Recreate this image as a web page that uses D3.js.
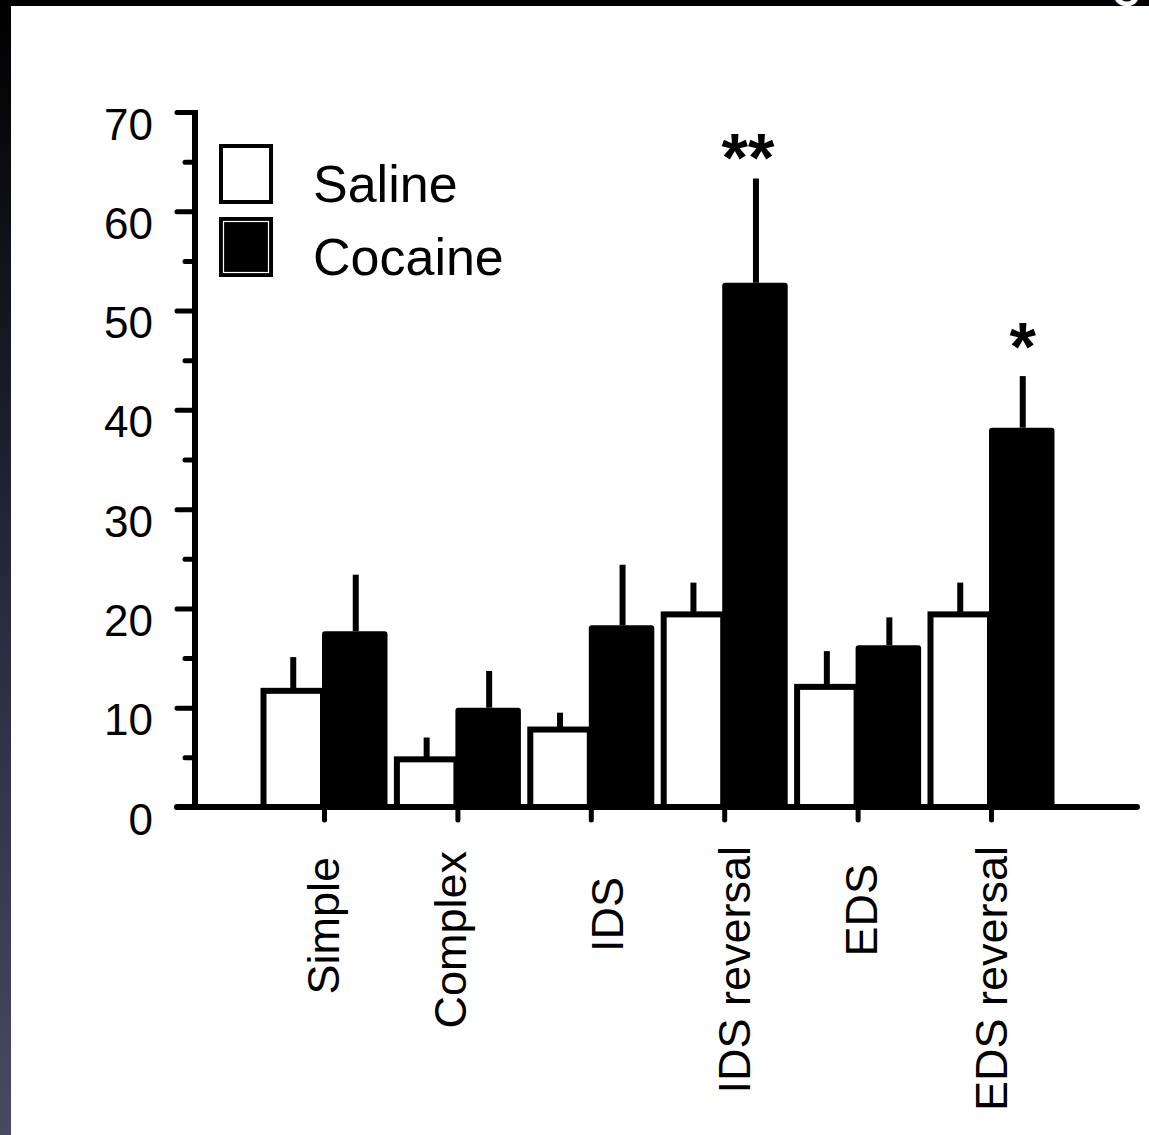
<!DOCTYPE html>
<html>
<head>
<meta charset="utf-8">
<script src="https://cdn.jsdelivr.net/npm/d3@7"></script>
<style>
  html, body { margin: 0; padding: 0; background: #fff; }
  svg { display: block; }
  text { font-family: "Liberation Sans", Arial, Helvetica, sans-serif; fill: #000; }
</style>
</head>
<body>
<svg id="chart" width="1149" height="1135"></svg>
<script>
// Task phases and treatment groups
const categories = ["Simple", "Complex", "IDS", "IDS reversal", "EDS", "EDS reversal"];
const series = ["Saline", "Cocaine"];

// Mean values and SEM for each phase
const salineMeans   = [11.7, 4.8, 7.8, 19.4, 12.1, 19.4];
const salineSEM     = [3.4, 2.2, 1.7, 3.2, 3.6, 3.2];
const cocaineMeans  = [17.7, 10.0, 18.3, 52.8, 16.3, 38.2];
const cocaineSEM    = [5.7, 3.7, 6.1, 10.5, 2.8, 5.2];

// Significance markers above the cocaine bars
const significance = ["", "", "", "**", "", "*"];

// Y axis ticks
const majorTicks = [0, 10, 20, 30, 40, 50, 60, 70];
const minorTicks = [5, 15, 25, 35, 45, 55, 65];

// Hand-placed nudges for the rotated category labels: [baseline dx, top y]
const labelPlacement = [[15, 857], [9, 851], [32, 877], [26, 846], [19, 864], [16, 846]];

const svg = d3.select("#chart");

// Page frame: black strip along the top, shaded strip down the left side
const defs = svg.append("defs");
const grad = defs.append("linearGradient").attr("id", "sideShade")
  .attr("x1", 0).attr("y1", 0).attr("x2", 0).attr("y2", 1);
grad.append("stop").attr("offset", "0%").attr("stop-color", "#000000");
grad.append("stop").attr("offset", "55%").attr("stop-color", "#2a2c40");
grad.append("stop").attr("offset", "100%").attr("stop-color", "#474a61");
defs.append("clipPath").attr("id", "topStripClip")
  .append("rect").attr("x", 0).attr("y", 0).attr("width", 1149).attr("height", 6);

svg.append("rect").attr("x", 0).attr("y", 0).attr("width", 1149).attr("height", 6).attr("fill", "#000");
svg.append("rect").attr("x", 0).attr("y", 0).attr("width", 11).attr("height", 1135).attr("fill", "url(#sideShade)");
// Panel letter, mostly above the page edge
svg.append("text").attr("x", 1112).attr("y", 6)
  .attr("clip-path", "url(#topStripClip)")
  .style("fill", "#fff").style("font-size", "38px").style("font-weight", "bold")
  .text("C");

// Scales
const yScale = d3.scaleLinear().domain([0, 70]).range([807, 112]);
const xCenter = d3.scalePoint().domain(categories).range([324, 991]);
const groupHalf = 63.5;
const xSub = d3.scaleBand().domain(series).range([-groupHalf, groupHalf]).padding(0);

const rows = categories.map((c, i) => ({
  cat: c,
  bars: [
    { s: "Saline",  v: salineMeans[i],  e: salineSEM[i] },
    { s: "Cocaine", v: cocaineMeans[i], e: cocaineSEM[i] }
  ],
  sig: significance[i]
}));

// Y axis: major ticks with labels, minor ticks without
const yMajor = d3.axisLeft(yScale).tickValues(majorTicks).tickSize(18).tickSizeOuter(0);
const gY = svg.append("g").attr("transform", "translate(195,0)").call(yMajor);
gY.select(".domain").attr("stroke", "#000").attr("stroke-width", 6)
  .attr("d", `M0,${yScale(70) - 2}V${yScale(0)}`);
gY.selectAll(".tick line").attr("stroke", "#000").attr("stroke-width", 5).attr("stroke-linecap", "round");
gY.selectAll(".tick text")
  .attr("x", -42).attr("dy", null).attr("y", 27)
  .style("font-size", "44px").style("text-anchor", "end");

const yMinor = d3.axisLeft(yScale).tickValues(minorTicks).tickSize(10).tickSizeOuter(0).tickFormat("");
const gYm = svg.append("g").attr("transform", "translate(195,0)").call(yMinor);
gYm.select(".domain").remove();
gYm.selectAll(".tick line").attr("stroke", "#000").attr("stroke-width", 5).attr("stroke-linecap", "round");

// Bars
const groups = svg.append("g").selectAll("g.group").data(rows).join("g")
  .attr("class", "group")
  .attr("transform", d => `translate(${xCenter(d.cat)},0)`);

const sw = 6;
groups.each(function(d) {
  const g = d3.select(this);
  const sal = d.bars[0], coc = d.bars[1];
  const bw = xSub.bandwidth();

  // Saline: open bar
  const sx0 = xSub("Saline") + sw / 2;
  g.append("rect")
    .attr("x", sx0)
    .attr("y", yScale(sal.v))
    .attr("width", bw - sw / 2 - 1)
    .attr("height", yScale(0) - yScale(sal.v))
    .attr("fill", "#fff").attr("stroke", "#000").attr("stroke-width", sw);
  // Cocaine: filled bar
  g.append("rect")
    .attr("x", xSub("Cocaine") - 2)
    .attr("y", yScale(coc.v))
    .attr("width", bw + 2)
    .attr("height", yScale(0) - yScale(coc.v))
    .attr("rx", 3)
    .attr("fill", "#000");

  // Error bars (upper only)
  g.append("line")
    .attr("x1", xSub("Saline") + bw / 2 + 1).attr("x2", xSub("Saline") + bw / 2 + 1)
    .attr("y1", yScale(sal.v)).attr("y2", yScale(sal.v + sal.e))
    .attr("stroke", "#000").attr("stroke-width", 6);
  g.append("line")
    .attr("x1", xSub("Cocaine") + bw / 2).attr("x2", xSub("Cocaine") + bw / 2)
    .attr("y1", yScale(coc.v)).attr("y2", yScale(coc.v + coc.e))
    .attr("stroke", "#000").attr("stroke-width", 6);

  // Significance stars
  if (d.sig) {
    g.append("text")
      .attr("x", xSub("Cocaine") + bw / 2 - (d.sig.length > 1 ? 8 : 0))
      .attr("y", yScale(coc.v + coc.e) - 6)
      .attr("dy", d.sig.length > 1 ? 8 : 0)
      .style("font-size", "68px").style("font-weight", "bold")
      .style("text-anchor", "middle")
      .text(d.sig);
  }
});

// X axis baseline and ticks
svg.append("line")
  .attr("x1", 177).attr("x2", 1137)
  .attr("y1", yScale(0)).attr("y2", yScale(0))
  .attr("stroke", "#000").attr("stroke-width", 6).attr("stroke-linecap", "round");

const xAxis = d3.axisBottom(xCenter).tickSize(13).tickSizeOuter(0).tickFormat("");
const gX = svg.append("g").attr("transform", `translate(0,${yScale(0)})`).call(xAxis);
gX.select(".domain").remove();
gX.selectAll(".tick line").attr("stroke", "#000").attr("stroke-width", 5).attr("stroke-linecap", "round");

// Rotated category labels
svg.append("g").selectAll("text").data(categories).join("text")
  .attr("transform", (d, i) => `translate(${xCenter(d) + labelPlacement[i][0]},${labelPlacement[i][1]}) rotate(-90)`)
  .style("font-size", "45px")
  .style("text-anchor", "end")
  .text(d => d);

// Legend
const legend = svg.append("g");
legend.append("rect").attr("x", 221).attr("y", 146).attr("width", 50).attr("height", 56)
  .attr("fill", "#fff").attr("stroke", "#000").attr("stroke-width", 4);
legend.append("rect").attr("x", 219).attr("y", 217).attr("width", 54).attr("height", 60)
  .attr("fill", "#000");
legend.append("rect").attr("x", 223.5).attr("y", 221.5).attr("width", 45).attr("height", 51)
  .attr("fill", "none").attr("stroke", "#fff").attr("stroke-width", 1.2);
legend.append("text").attr("x", 313).attr("y", 202).style("font-size", "52px").text(series[0]);
legend.append("text").attr("x", 313).attr("y", 275).style("font-size", "52px").text(series[1]);
</script>
</body>
</html>
